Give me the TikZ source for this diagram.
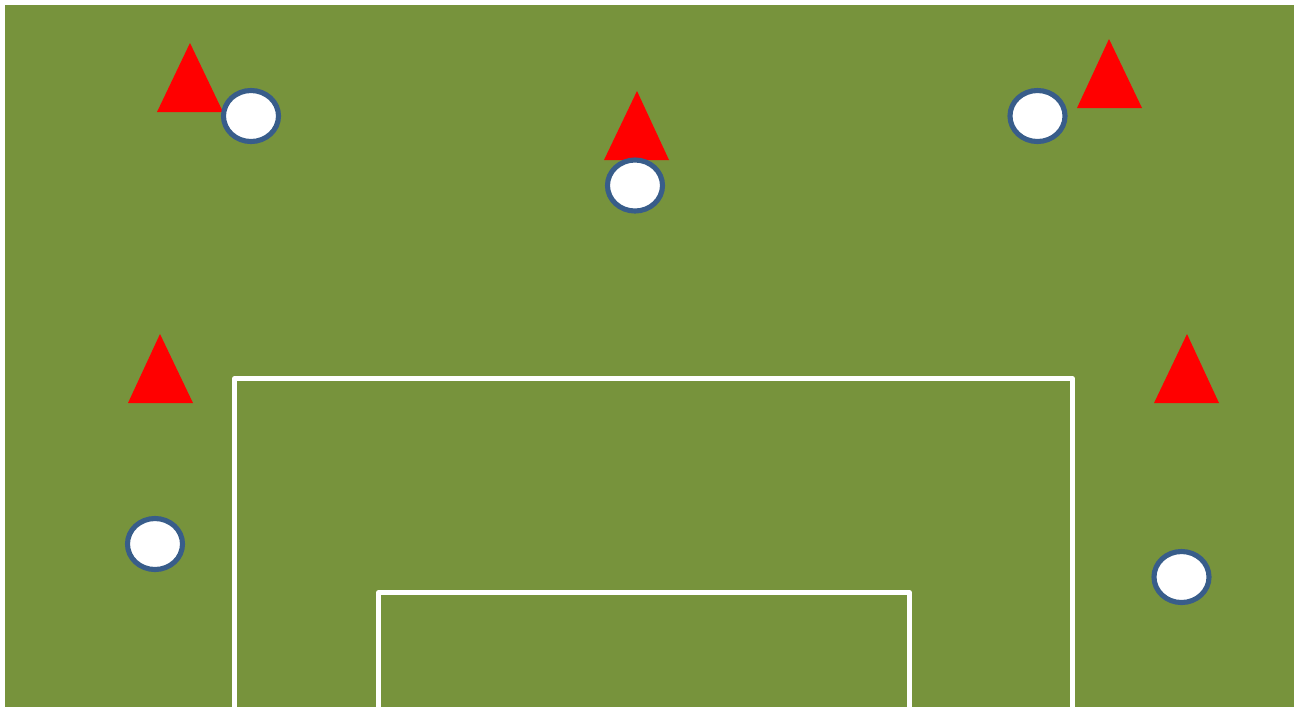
\documentclass[tikz,border=0pt]{standalone}
\usepackage{tikz}
\usetikzlibrary{positioning}
\definecolor{pitchgreen}{HTML}{77933C}
\definecolor{playerblue}{HTML}{385D8A}

\begin{document}
\begin{tikzpicture}[x=0.01cm, y=-0.01cm,
        cone/.style={fill=red},
        player/.style={draw=playerblue, fill=white, line width=1.45pt},
        pitchline/.style={draw=white, line width=1.3pt, line join=round}]
        \useasboundingbox (0,0) rectangle (1297,708);
        \fill[white] (0,0) rectangle (1297,708);

        % Campo
        \fill[pitchgreen] (5,5) rectangle (1294,707);

        % Area di rigore e area piccola
        \begin{scope}
            \clip (5,5) rectangle (1294,707);
            \draw[pitchline] (234.5,712) -- (234.5,378.5) -- (1072.5,378.5) -- (1072.5,712);
            \draw[pitchline] (378.5,712) -- (378.5,592.5) -- (909.5,592.5) -- (909.5,712);
        \end{scope}

        % Coni
        \fill[cone] (157,112) -- (190,43) -- (223,112) -- cycle;
        \fill[cone] (604,160) -- (637,91) -- (669,160) -- cycle;
        \fill[cone] (1077,108) -- (1109,39) -- (1142,108) -- cycle;
        \fill[cone] (128,403) -- (160,334) -- (193,403) -- cycle;
        \fill[cone] (1154,403) -- (1187,334) -- (1219,403) -- cycle;

        % Giocatori
        \draw[player] (251,116) ellipse (0.275cm and 0.255cm);
        \draw[player] (635,185.5) ellipse (0.275cm and 0.255cm);
        \draw[player] (1037.5,116) ellipse (0.275cm and 0.255cm);
        \draw[player] (155,544) ellipse (0.275cm and 0.255cm);
        \draw[player] (1181.5,577) ellipse (0.275cm and 0.255cm);
    \end{tikzpicture}
\end{document}
